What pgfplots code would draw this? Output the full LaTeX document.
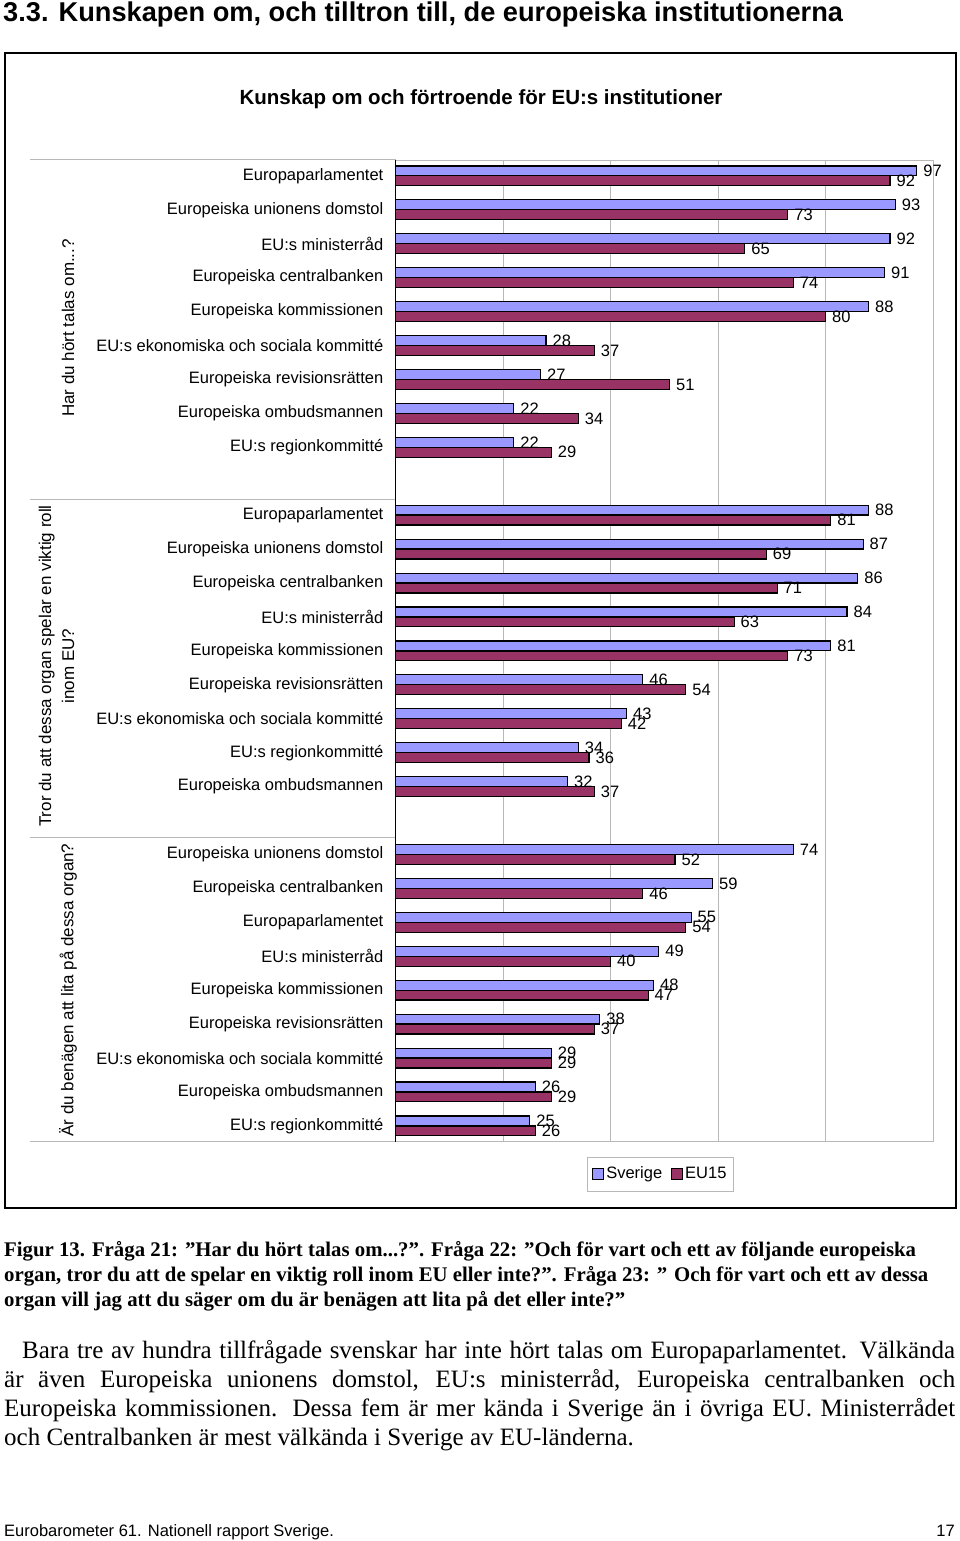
\documentclass[border=0pt]{standalone}
\usepackage{fontspec}
\setmainfont{Liberation Sans}
\newfontfamily\serifft{Liberation Serif}
\usepackage{pgfplots}
\pgfplotsset{compat=1.18}
\usepackage{pgfplotstable}
\definecolor{sv}{HTML}{9999FF}
\definecolor{eu}{HTML}{993366}
\definecolor{gridc}{HTML}{B8B8B8}
\pgfplotsset{sqlegend/.style={legend image code/.code={\draw[##1, line width=0.9pt] (0pt,-5.5pt) rectangle (11pt,5.5pt);}}}

\pgfplotstableread{
y sv eu
0 97 92
1 93 73
2 92 65
3 91 74
4 88 80
5 28 37
6 27 51
7 22 34
8 22 29
10 88 81
11 87 69
12 86 71
13 84 63
14 81 73
15 46 54
16 43 42
17 34 36
18 32 37
20 74 52
21 59 46
22 55 54
23 49 40
24 48 47
25 38 37
26 29 29
27 26 29
28 25 26
}\datatab

\begin{document}
\begin{tikzpicture}[x=1pt,y=-1pt]
\path[use as bounding box] (0,0) rectangle (960,1541);

% page header
\node[anchor=base west, inner sep=0, font=\bfseries\fontsize{27.2}{30}\selectfont] at (3,22) {3.3. Kunskapen om, och tilltron till, de europeiska institutionerna};

% chart frame
\draw[line width=1.5pt] (5,53) rectangle (956,1208);
\node[font=\bfseries\fontsize{20.5}{23}\selectfont] at (481,99) {Kunskap om och förtroende för EU:s institutioner};

% group labels
\node[rotate=90, inner sep=0, font=\fontsize{17}{23}\selectfont] at (68,328) {Har du hört talas om...?};
\node[rotate=90, inner sep=0, align=center, font=\fontsize{17}{23}\selectfont] at (56.5,666) {Tror du att dessa organ spelar en viktig roll\\inom EU?};
\node[rotate=90, inner sep=0, font=\fontsize{17}{23}\selectfont] at (68,990) {Är du benägen att lita på dessa organ?};

% dividers
\draw[gridc, line width=1pt] (30,160) -- (395.5,160);
\draw[gridc, line width=1pt] (30,499) -- (395.5,499);
\draw[gridc, line width=1pt] (30,837) -- (395.5,837);
\draw[gridc, line width=1pt] (30,1141.5) -- (395.5,1141.5);

\begin{axis}[
  at={(395.5pt,-160pt)}, anchor=north west,
  scale only axis, width=537.5pt, height=981.5pt,
  xmin=0, xmax=100, ymin=-0.466, ymax=28.46, y dir=reverse,
  xtick={20,40,60,80}, xticklabels=\empty, xmajorgrids,
  grid style={draw=gridc, line width=0.9pt},
  axis line style={draw=gridc, line width=1pt},
  major tick length=0pt,
  ytick={0,1,2,3,4,5,6,7,8,10,11,12,13,14,15,16,17,18,20,21,22,23,24,25,26,27,28},
  yticklabels={Europaparlamentet, Europeiska unionens domstol\hspace{10pt}, EU:s ministerråd, Europeiska centralbanken, Europeiska kommissionen, EU:s ekonomiska och sociala kommitté, Europeiska revisionsrätten, Europeiska ombudsmannen, EU:s regionkommitté,
    Europaparlamentet, Europeiska unionens domstol\hspace{5pt}, Europeiska centralbanken, EU:s ministerråd, Europeiska kommissionen, Europeiska revisionsrätten, EU:s ekonomiska och sociala kommitté, EU:s regionkommitté, Europeiska ombudsmannen,
    Europeiska unionens domstol, Europeiska centralbanken, Europaparlamentet, EU:s ministerråd, Europeiska kommissionen, Europeiska revisionsrätten, EU:s ekonomiska och sociala kommitté, Europeiska ombudsmannen, EU:s regionkommitté},
  yticklabel style={font=\fontsize{16.5}{19}\selectfont, inner sep=0pt, anchor=east, xshift=-12pt},
  /pgf/number format/assume math mode=true,
  xbar, bar width=0.29,
  nodes near coords,
  every node near coord/.append style={font=\fontsize{16.5}{18}\selectfont, inner sep=0pt, anchor=west, xshift=6pt, black},
  legend columns=2,
  legend style={at={(axis description cs:0.3563,-0.0158)}, anchor=north west, draw=gridc, line width=0.8pt, fill=white,
    font=\fontsize{16.5}{18}\selectfont, inner xsep=5pt, inner ysep=7pt,
    nodes={text height=12pt, text depth=3.5pt, inner sep=2pt},
    /tikz/every even column/.append style={column sep=7pt}},
  clip=false,
]
\addplot[draw=black, fill=sv, line width=1.2pt, bar shift=-0.147, sqlegend]
  table[x=sv, y=y]{\datatab};
\addlegendentry{Sverige}
\addplot[draw=black, fill=eu, line width=1.2pt, bar shift=0.147, sqlegend]
  table[x=eu, y=y]{\datatab};
\addlegendentry{EU15}
\draw[black, line width=1.2pt] (axis cs:0,-0.466) -- (axis cs:0,28.46);
\end{axis}

% caption
\node[anchor=north west, inner sep=0, align=left, font=\serifft\bfseries\fontsize{20.8}{25}\selectfont] at (4,1241) {Figur 13. Fråga 21: ”Har du hört talas om...?”. Fråga 22: ”Och för vart och ett av följande europeiska\\organ, tror du att de spelar en viktig roll inom EU eller inte?”. Fråga 23: ” Och för vart och ett av dessa\\organ vill jag att du säger om du är benägen att lita på det eller inte?”};

% paragraph
\node[anchor=north west, inner sep=0, text width=951pt, align=justify, font=\serifft\fontsize{25}{29}\selectfont] at (4,1340) {\hspace*{18pt}Bara tre av hundra tillfrågade svenskar har inte hört talas om Europaparlamentet. Välkända\linebreak är även Europeiska unionens domstol, EU:s ministerråd, Europeiska centralbanken och\linebreak Europeiska kommissionen. Dessa fem är mer kända i Sverige än i övriga EU. Ministerrådet\linebreak och Centralbanken är mest välkända i Sverige av EU-länderna.};

% footer
\node[anchor=base west, inner sep=0, font=\fontsize{16.5}{20}\selectfont] at (4,1536) {Eurobarometer 61. Nationell rapport Sverige.};
\node[anchor=base east, inner sep=0, font=\fontsize{16.5}{20}\selectfont] at (955,1536) {17};
\end{tikzpicture}
\end{document}
